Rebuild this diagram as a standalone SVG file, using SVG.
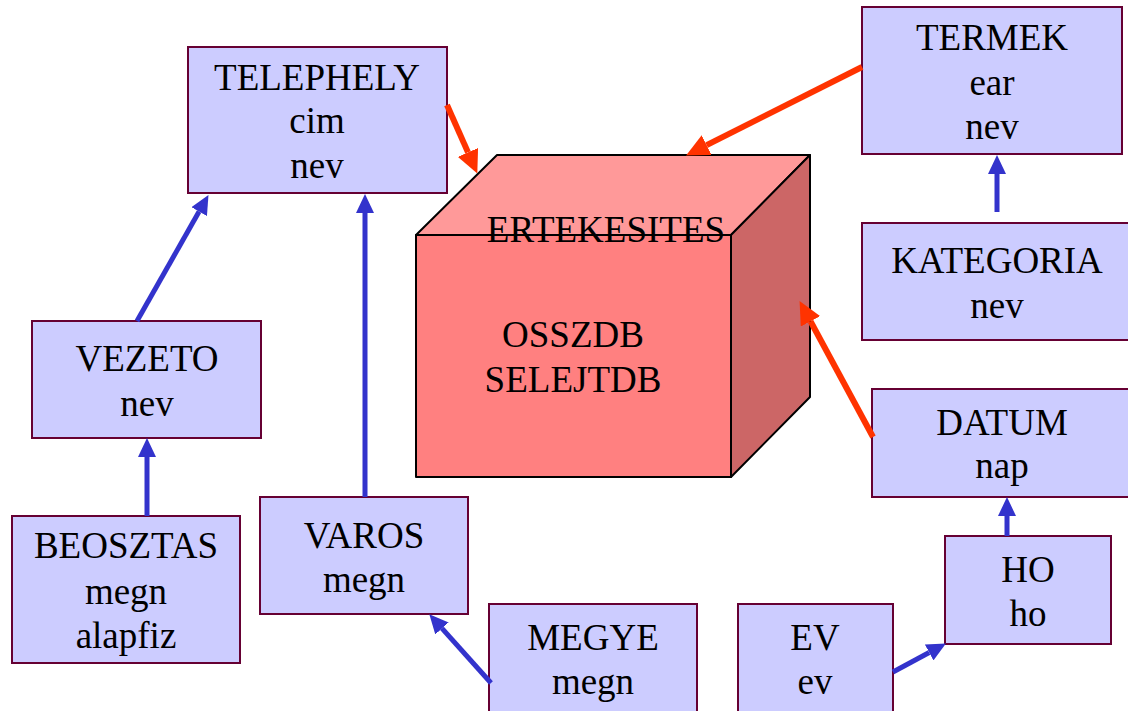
<svg xmlns="http://www.w3.org/2000/svg" width="1128" height="711" viewBox="0 0 1128 711">
<style>
.box{fill:#CCCCFF;stroke:#660033;stroke-width:2}
.t{font-family:"Liberation Serif","Times New Roman",serif;font-size:37px;fill:#000;text-anchor:middle}
.b{stroke:#3333CC;stroke-width:5;fill:none}
.r{stroke:#FF3300;stroke-width:6;fill:none}
.cube{stroke:#000;stroke-width:2;stroke-linejoin:round}
</style>
<defs>
<marker id="ab" markerUnits="userSpaceOnUse" markerWidth="20" markerHeight="18" refX="0" refY="9" orient="auto" viewBox="0 0 20 18">
<path d="M0,0 L19,9 L0,18 Z" fill="#3333CC"/>
</marker>
<marker id="ar" markerUnits="userSpaceOnUse" markerWidth="23" markerHeight="22" refX="0" refY="11" orient="auto" viewBox="0 0 23 22">
<path d="M0,0 L23,11 L0,22 Z" fill="#FF3300"/>
</marker>
</defs>
<rect width="1128" height="711" fill="#fff"/>
<g id="ERTEKESITES" class="t">
<polygon class="cube" points="416,235 497,155 810,155 731,235" fill="#FF9999"/>
<polygon class="cube" points="731,235 810,155 810,397 731,477" fill="#CC6666"/>
<rect class="cube" x="416" y="235" width="315" height="242" fill="#FF8080"/>
<text x="606" y="242">ERTEKESITES</text>
<text x="573" y="347">OSSZDB</text>
<text x="573" y="392">SELEJTDB</text>
</g>
<g id="TELEPHELY" class="t">
<rect class="box" x="188" y="47" width="259" height="146"/>
<text x="317" y="90">TELEPHELY</text>
<text x="317" y="133">cim</text>
<text x="317" y="178">nev</text>
</g>
<g id="VEZETO" class="t">
<rect class="box" x="32" y="321" width="229" height="117"/>
<text x="147" y="371">VEZETO</text>
<text x="147" y="416">nev</text>
</g>
<g id="BEOSZTAS" class="t">
<rect class="box" x="12" y="516" width="228" height="147"/>
<text x="126" y="558">BEOSZTAS</text>
<text x="126" y="604">megn</text>
<text x="126" y="648">alapfiz</text>
</g>
<g id="VAROS" class="t">
<rect class="box" x="260" y="497" width="208" height="117"/>
<text x="364" y="548">VAROS</text>
<text x="364" y="592">megn</text>
</g>
<g id="MEGYE" class="t">
<rect class="box" x="489" y="604" width="208" height="120"/>
<text x="593" y="650">MEGYE</text>
<text x="593" y="694">megn</text>
</g>
<g id="EV" class="t">
<rect class="box" x="738" y="604" width="155" height="120"/>
<text x="815" y="650">EV</text>
<text x="815" y="694">ev</text>
</g>
<g id="HO" class="t">
<rect class="box" x="945" y="536" width="166" height="108"/>
<text x="1028" y="582">HO</text>
<text x="1028" y="626">ho</text>
</g>
<g id="DATUM" class="t">
<rect class="box" x="872" y="389" width="262" height="108"/>
<text x="1002" y="435">DATUM</text>
<text x="1002" y="478">nap</text>
</g>
<g id="KATEGORIA" class="t">
<rect class="box" x="862" y="223" width="268" height="117"/>
<text x="997" y="273">KATEGORIA</text>
<text x="997" y="318">nev</text>
</g>
<g id="TERMEK" class="t">
<rect class="box" x="862" y="7" width="260" height="147"/>
<text x="992" y="50">TERMEK</text>
<text x="992" y="95">ear</text>
<text x="992" y="139">nev</text>
</g>
<g id="connectors">
<path class="b" d="M137,321 L199.1,211.6" marker-end="url(#ab)"/>
<path class="b" d="M365,497 L365,213" marker-end="url(#ab)"/>
<path class="b" d="M147,516 L147,457" marker-end="url(#ab)"/>
<path class="b" d="M491,683 L442,628.4" marker-end="url(#ab)"/>
<path class="b" d="M893,672 L929.2,652.5" marker-end="url(#ab)"/>
<path class="b" d="M1007,536 L1007,516" marker-end="url(#ab)"/>
<path class="b" d="M997,212 L997,174" marker-end="url(#ab)"/>
<path class="r" d="M447,105 L468,152.4" marker-end="url(#ar)"/>
<path class="r" d="M862,67 L706.6,145.1" marker-end="url(#ar)"/>
<path class="r" d="M873,437 L810.5,321.3" marker-end="url(#ar)"/>
</g>
</svg>
